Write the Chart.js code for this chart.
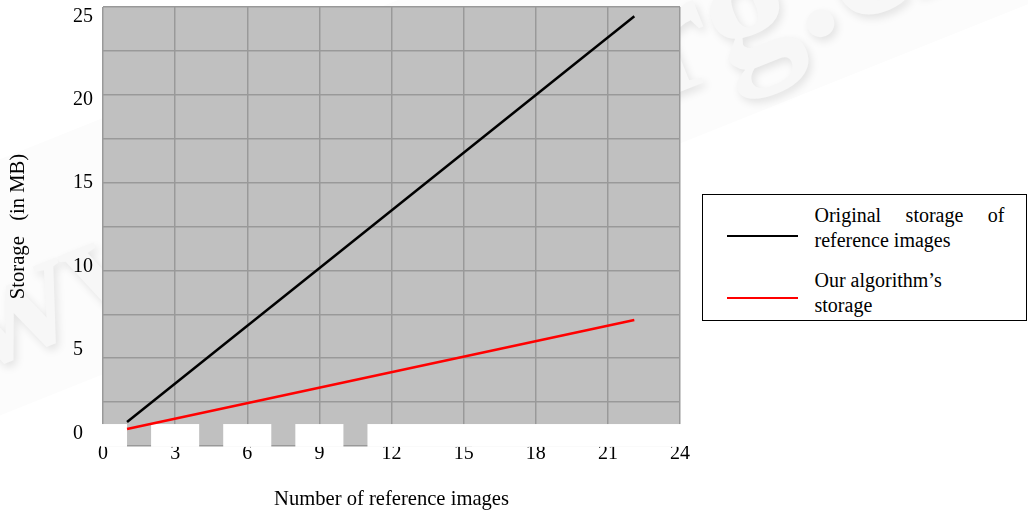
<!DOCTYPE html>
<html><head><meta charset="utf-8">
<script src="https://cdn.jsdelivr.net/npm/chart.js@4"></script>
<style>
html,body{margin:0;padding:0;background:#fff;}
#wrap{position:relative;width:1028px;height:512px;overflow:hidden;}
canvas{position:absolute;left:0;top:0;}
#legend{position:absolute;left:702px;top:194px;width:325px;height:127px;box-sizing:border-box;border:1.5px solid #000;background:#fff;font-family:"Liberation Serif",serif;font-size:20px;color:#000;}
.sample{position:absolute;left:23.5px;width:71px;height:0;border-top-style:solid;border-top-width:2.6px;}
.txt{position:absolute;left:111.5px;width:190px;line-height:25px;white-space:nowrap;}
.txt div.j{text-align:justify;text-align-last:justify;}
</style></head>
<body><div id="wrap"><canvas id="c" width="1028" height="512"></canvas><div id="legend"></div></div>
<script>
// ---- data ----
const xTickValues = [0, 3, 6, 9, 12, 15, 18, 21, 24];
const yTickValues = [0, 5, 10, 15, 20, 25];
const imageCounts = [1, 22.1];
const originalStorage = [0.68, 25.0];
const algorithmStorage = [0.26, 6.8];
const seriesNames = ["Original storage of reference images", "Our algorithm’s storage"];
const legendLines = [["Original storage of", "reference images"], ["Our algorithm’s", "storage"]];
const seriesColors = ["#000000", "#ff0000"];
const xTitle = "Number of reference images";
const yTitle = "Storage   (in MB)";
const maskGaps = [[1, 2], [4, 5], [7, 8], [10, 11]];
const watermarkText = "www.jos.org.cn";

const FONT = '"Liberation Serif", "Times New Roman", serif';
const toPoints = (xs, ys) => xs.map((x, i) => ({x: x, y: ys[i]}));

const backgroundPlugin = {
  id: 'bg',
  beforeDraw(chart) {
    const {ctx, chartArea: a} = chart;
    ctx.save();
    ctx.fillStyle = '#fff';
    ctx.fillRect(0, 0, chart.width, chart.height);
    // faint watermark band
    const ang = -Math.atan(0.4);
    ctx.translate(-28, 375);
    ctx.rotate(ang);
    ctx.fillStyle = '#fcfcfc';
    ctx.fillRect(-200, -190, 1700, 238);
    ctx.font = 'bold 170px ' + FONT;
    ctx.shadowColor = 'rgba(0,0,0,0.10)';
    ctx.shadowBlur = 9;
    ctx.shadowOffsetX = 3;
    ctx.shadowOffsetY = 4;
    ctx.fillStyle = '#f7f7f7';
    ctx.fillText(watermarkText, 0, 0);
    ctx.restore();
    ctx.save();
    ctx.fillStyle = '#c0c0c0';
    ctx.fillRect(a.left, a.top, a.right - a.left, a.bottom - a.top);
    ctx.restore();
  }
};

const maskPlugin = {
  id: 'mask',
  beforeDatasetsDraw(chart) {
    const {ctx, chartArea: a} = chart;
    const xs = chart.scales.x, yg = chart.scales.yg;
    const top = yg.getPixelForValue(0.5);
    const bottom = a.bottom + 0.9;
    const edges = [a.left - 2];
    maskGaps.forEach(g => { edges.push(xs.getPixelForValue(g[0])); edges.push(xs.getPixelForValue(g[1])); });
    edges.push(a.right + 2);
    ctx.save();
    ctx.fillStyle = '#fff';
    for (let i = 0; i < edges.length; i += 2) {
      ctx.fillRect(edges[i], top, edges[i + 1] - edges[i], bottom - top);
    }
    ctx.restore();
  }
};

const zeroPad = s => { s.paddingTop = 0; s.paddingBottom = 0; s.paddingLeft = 0; s.paddingRight = 0; };

const chart = new Chart(document.getElementById('c'), {
  type: 'line',
  data: {
    datasets: [
      {label: seriesNames[0], data: toPoints(imageCounts, originalStorage), borderColor: seriesColors[0], borderWidth: 2.5, pointRadius: 0, tension: 0, xAxisID: 'x', yAxisID: 'y'},
      {label: seriesNames[1], data: toPoints(imageCounts, algorithmStorage), borderColor: seriesColors[1], borderWidth: 2.5, pointRadius: 0, tension: 0, xAxisID: 'x', yAxisID: 'y'}
    ]
  },
  options: {
    responsive: false, animation: false, devicePixelRatio: 1,
    layout: {padding: {left: 0, top: 7, right: 348, bottom: 0}},
    plugins: {legend: {display: false}, tooltip: {enabled: false}},
    scales: {
      x: {
        type: 'linear', position: 'bottom', min: 0, max: 24,
        afterBuildTicks: s => { s.ticks = xTickValues.map(v => ({value: v})); },
        ticks: {font: {family: FONT, size: 20, lineHeight: 0.6}, color: '#000', padding: 2, autoSkip: false, maxRotation: 0},
        grid: {color: '#999', lineWidth: 1.5, drawTicks: false},
        border: {display: false},
        title: {display: true, text: xTitle, font: {family: FONT, size: 20.6}, color: '#000', padding: {top: 0, bottom: 0}},
        afterFit: s => { s.height = 66; zeroPad(s); }
      },
      y: {
        type: 'linear', position: 'left', weight: 0, min: -0.76, max: 25.56,
        afterBuildTicks: s => { s.ticks = yTickValues.map(v => ({value: v})); },
        ticks: {font: {family: FONT, size: 20}, color: '#000', crossAlign: 'far', padding: 10, autoSkip: false},
        grid: {display: false, drawTicks: false},
        border: {display: false},
        afterFit: s => { s.width = 30; zeroPad(s); }
      },
      yt: {
        type: 'linear', position: 'left', weight: 1, min: 0, max: 1,
        ticks: {display: false},
        grid: {display: false, drawTicks: false},
        border: {display: false},
        title: {display: true, text: yTitle, font: {family: FONT, size: 20.6}, color: '#000', padding: {top: 6, bottom: 0}},
        afterFit: s => { s.width = 73; zeroPad(s); }
      },
      yg: {
        type: 'linear', position: 'right', min: 0, max: 10,
        ticks: {display: false, stepSize: 1},
        grid: {color: '#999', lineWidth: 1.5, drawTicks: false},
        border: {display: false},
        afterFit: s => { s.width = 0; zeroPad(s); }
      }
    }
  },
  plugins: [backgroundPlugin, maskPlugin]
});

// ---- HTML legend built from the datasets ----
const legend = document.getElementById('legend');
chart.data.datasets.forEach((ds, i) => {
  const sample = document.createElement('div');
  sample.className = 'sample';
  sample.style.borderTopColor = ds.borderColor;
  sample.style.top = (40 + i * 62) + 'px';
  legend.appendChild(sample);
  const txt = document.createElement('div');
  txt.className = 'txt';
  txt.style.top = (8 + i * 65) + 'px';
  legendLines[i].forEach((line, j) => {
    const d = document.createElement('div');
    d.textContent = line;
    if (i === 0 && j === 0) d.className = 'j';
    txt.appendChild(d);
  });
  legend.appendChild(txt);
});
</script>
</body></html>
